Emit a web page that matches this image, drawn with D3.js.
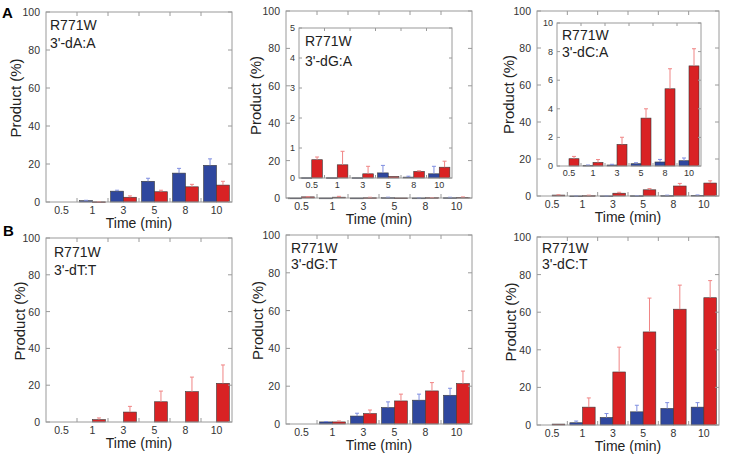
<!DOCTYPE html>
<html><head><meta charset="utf-8">
<script src="https://cdn.jsdelivr.net/npm/d3@7/dist/d3.min.js"></script>
<style>body{margin:0;background:#fff}svg{display:block}text{font-family:"Liberation Sans",Arial,sans-serif}</style>
</head><body><svg id="c" width="729" height="454"></svg>
<script>
const times = ["0.5","1","3","5","8","10"];
const yTicksMain = [0,20,40,60,80,100];
const mutant = "R771W";
const pairs = ["3'-dA:A","3'-dG:A","3'-dC:A","3'-dT:T","3'-dG:T","3'-dC:T"];
// blue series values and SD per panel
const blueA1 = [0,0.7,5.7,10.9,15.2,19.3], blueSdA1 = [0,0.2,0.5,1.6,2.5,3.4];
const redA1  = [0,0.1,2.5,5.4,8.0,8.9],   redSdA1  = [0,0.1,0.7,0.8,1.3,2.0];
const blueA2 = [0.01,0.01,0.01,0.17,0.03,0.14], blueSdA2 = [0,0,0,0.25,0.03,0.25];
const redA2  = [0.61,0.44,0.14,0.05,0.22,0.36], redSdA2  = [0.09,0.45,0.25,0,0.02,0.2];
const blueA3 = [0,0.05,0.07,0.16,0.28,0.37], blueSdA3 = [0,0.02,0.05,0.07,0.18,0.19];
const redA3  = [0.51,0.25,1.51,3.35,5.4,7.0], redSdA3 = [0.16,0.2,0.5,0.65,1.4,1.2];
const blueB1 = [0,0,0,0,0,0], blueSdB1 = [0,0,0,0,0,0];
const redB1  = [0,1.3,5.4,11.0,16.5,21.0], redSdB1 = [0,0.9,3.1,5.8,7.9,10];
const blueB2 = [0,1.1,4.2,8.7,12.6,15.2], blueSdB2 = [0,0.2,1.5,3.0,3.2,3.7];
const redB2  = [0,1.1,5.5,12.2,17.5,21.4], redSdB2 = [0,0.5,1.9,3.6,4.4,6.6];
const blueB3 = [0,1.2,4.0,7.0,8.8,9.5], blueSdB3 = [0,0.9,2.1,3.5,3.1,2.4];
const redB3  = [0.5,9.5,28.2,49.5,61.6,67.7], redSdB3 = [0,4.9,13.2,18.0,12.8,9.1];
const insetTicksA2 = [0,1,2,3,4,5];
const insetTicksA3 = [0,2,4,6,8,10];

const BLUE="#2f479e", RED="#d92224", BLUE_E="#7f8ee0", RED_E="#f08585", FRAME="#9a9a9a";
const svg = d3.select("#c");

function drawPlot(g, box, ymax, yticks, blue, blueSd, red, redSd, opt){
  const x = d3.scaleBand().domain(times).range([box.l, box.r]).paddingInner(0).paddingOuter(0);
  const y = d3.scaleLinear().domain([0, ymax]).range([box.b, box.t]);
  const inner = d3.scaleBand().domain(["b","r"]).range([0, x.bandwidth()]).paddingOuter(opt.pad).paddingInner(0);
  if (opt.bg) g.append("rect").attr("x",box.l).attr("y",box.t).attr("width",box.r-box.l).attr("height",box.b-box.t).attr("fill","#fff");
  const series = [{k:"b", v:blue, sd:blueSd, c:BLUE, e:BLUE_E},{k:"r", v:red, sd:redSd, c:RED, e:RED_E}];
  series.forEach(s=>{
    times.forEach((t,i)=>{
      const bx = x(t)+inner(s.k), bw = inner.bandwidth();
      const v = s.v[i];
      if (v > 0) {
        g.append("rect").attr("x",bx).attr("y",y(v)).attr("width",bw).attr("height",Math.max(0.8,y(0)-y(v)))
          .attr("fill",s.c).attr("stroke","#3a3a3a").attr("stroke-width",0.6);
      }
      if (s.sd[i] > 0) {
        const cx = bx + bw/2;
        g.append("line").attr("x1",cx).attr("x2",cx).attr("y1",y(v)).attr("y2",y(v+s.sd[i])).attr("stroke",s.e).attr("stroke-width",1);
        g.append("line").attr("x1",cx-2).attr("x2",cx+2).attr("y1",y(v+s.sd[i])).attr("y2",y(v+s.sd[i])).attr("stroke",s.e).attr("stroke-width",1);
      }
    });
  });
  g.append("rect").attr("x",box.l).attr("y",box.t).attr("width",box.r-box.l).attr("height",box.b-box.t)
    .attr("fill","none").attr("stroke",FRAME).attr("stroke-width",1);
  const tl = opt.tick;
  yticks.forEach(v=>{
    g.append("line").attr("x1",box.l).attr("x2",box.l+tl).attr("y1",y(v)).attr("y2",y(v)).attr("stroke",FRAME);
    g.append("line").attr("x1",box.r).attr("x2",box.r-tl).attr("y1",y(v)).attr("y2",y(v)).attr("stroke",FRAME);
    g.append("text").attr("x",box.l-opt.ylabGap).attr("y",y(v)).attr("text-anchor","end").attr("dominant-baseline","central")
      .attr("font-size",opt.fs).attr("fill","#333").text(v);
  });
  times.slice(1).forEach(t=>{
    const xx = x(t);
    g.append("line").attr("x1",xx).attr("x2",xx).attr("y1",box.b).attr("y2",box.b-tl).attr("stroke",FRAME);
    g.append("line").attr("x1",xx).attr("x2",xx).attr("y1",box.t).attr("y2",box.t+tl).attr("stroke",FRAME);
  });
  times.forEach(t=>{
    g.append("text").attr("x",x(t)+x.bandwidth()/2).attr("y",box.b+opt.xlabGap).attr("text-anchor","middle").attr("dominant-baseline","central")
      .attr("font-size",opt.fs).attr("fill","#333").text(t);
  });
}

const panels = [
  {box:{l:46,r:232,t:12,b:202}, blue:blueA1,bsd:blueSdA1,red:redA1,rsd:redSdA1, ylab:15, ann:[50,25,43], name:pairs[0]},
  {box:{l:286,r:472,t:11,b:198}, blue:blueA2,bsd:blueSdA2,red:redA2,rsd:redSdA2, ylab:255, ann:[305,41,61], name:pairs[1],
    inset:{box:{l:299,r:452,t:28,b:178}, max:5, ticks:insetTicksA2}},
  {box:{l:537,r:719,t:11,b:196}, blue:blueA3,bsd:blueSdA3,red:redA3,rsd:redSdA3, ylab:508, ann:[562,35,52], name:pairs[2],
    inset:{box:{l:557,r:701,t:23,b:166}, max:10, ticks:insetTicksA3}},
  {box:{l:46,r:232,t:238,b:422}, blue:blueB1,bsd:blueSdB1,red:redB1,rsd:redSdB1, ylab:19, ann:[54,252,270], name:pairs[3]},
  {box:{l:286,r:472,t:235,b:424}, blue:blueB2,bsd:blueSdB2,red:redB2,rsd:redSdB2, ylab:257, ann:[291,248,264], name:pairs[4]},
  {box:{l:537,r:719,t:237,b:425}, blue:blueB3,bsd:blueSdB3,red:redB3,rsd:redSdB3, ylab:510, ann:[542,248,264], name:pairs[5]}
];

panels.forEach(p=>{
  const g = svg.append("g");
  drawPlot(g, p.box, 100, yTicksMain, p.blue, p.bsd, p.red, p.rsd, {pad:0.2, tick:4, fs:10.5, ylabGap:6, xlabGap:8, bg:false});
  if (p.inset) {
    drawPlot(g, p.inset.box, p.inset.max, p.inset.ticks, p.blue, p.bsd, p.red, p.rsd, {pad:0.2, tick:3, fs:9, ylabGap:4, xlabGap:7, bg:true});
  }
  const cy = (p.box.t+p.box.b)/2 - 9;
  g.append("text").attr("transform",`translate(${p.ylab},${cy}) rotate(-90)`).attr("text-anchor","middle").attr("dominant-baseline","central")
    .attr("font-size",15).attr("fill","#222").text("Product (%)");
  g.append("text").attr("x",(p.box.l+p.box.r)/2).attr("y",p.box.b+26).attr("text-anchor","middle")
    .attr("font-size",14).attr("fill","#222").text("Time (min)");
  g.append("text").attr("x",p.ann[0]).attr("y",p.ann[1]).attr("dominant-baseline","central").attr("font-size",14).attr("fill","#222").text(mutant);
  g.append("text").attr("x",p.ann[0]).attr("y",p.ann[2]).attr("dominant-baseline","central").attr("font-size",14).attr("fill","#222").text(p.name);
});
svg.append("text").attr("x",2).attr("y",18).attr("font-size",15).attr("font-weight","bold").text("A");
svg.append("text").attr("x",3).attr("y",236).attr("font-size",15).attr("font-weight","bold").text("B");
</script></body></html>
